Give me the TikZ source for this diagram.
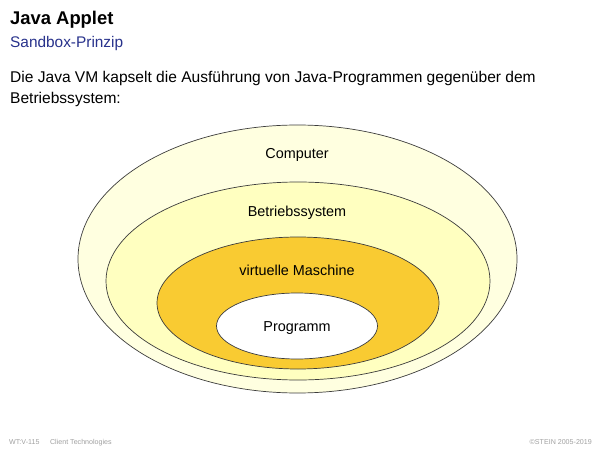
\documentclass[tikz,border=0pt]{standalone}
\usepackage{fontspec}
\setmainfont{Liberation Sans}
\definecolor{subblue}{RGB}{40,50,140}
\definecolor{compfill}{RGB}{255,255,224}
\definecolor{osfill}{RGB}{255,255,192}
\definecolor{vmfill}{RGB}{249,203,50}
\definecolor{edge}{RGB}{60,60,60}
\definecolor{foot}{RGB}{160,160,160}
\begin{document}
\begin{tikzpicture}[x=1bp,y=-1bp,
  layer/.style={draw=edge,line width=0.7bp},
  lbl/.style={anchor=base,inner sep=0pt,font=\fontsize{14.4bp}{16bp}\selectfont},
  txt/.style={anchor=base west,inner sep=0pt},
  footer/.style={inner sep=0pt,text=foot,font=\fontsize{7.1bp}{8bp}\selectfont}]
\useasboundingbox (0,0) rectangle (600,450);
\fill[white] (0,0) rectangle (600,450);
% titles
\node[txt,font=\bfseries\fontsize{18.4bp}{22bp}\selectfont] (title) at (10,25) {Java Applet};
\node[txt,text=subblue,font=\fontsize{15.4bp}{18bp}\selectfont] (sub) at (10,47.5) {Sandbox-Prinzip};
\node[txt,font=\fontsize{15.55bp}{18bp}\selectfont] (body1) at (10,83) {Die Java VM kapselt die Ausführung von Java-Programmen gegenüber dem};
\node[txt,font=\fontsize{15.55bp}{18bp}\selectfont] (body2) at (10,104) {Betriebssystem:};
% ellipses
\draw[layer,fill=compfill] (297.5,259) ellipse [x radius=219.5,y radius=134];
\draw[layer,fill=osfill] (298,281) ellipse [x radius=192,y radius=99];
\draw[layer,fill=vmfill] (298,303) ellipse [x radius=141,y radius=66];
\draw[layer,fill=white] (297,326) ellipse [x radius=80.5,y radius=33];
\node[lbl] (computer) at (297,158.5) {Computer};
\node[lbl] (os) at (297,216.5) {Betriebssystem};
\node[lbl] (vm) at (297,276) {virtuelle Maschine};
\node[lbl] (prog) at (297,331.5) {Programm};
% footer
\node[footer,anchor=base west] (footl) at (9,444) {WT:V-115\hspace{1.5em}Client Technologies};
\node[footer,anchor=base east] (footr) at (592,444) {©STEIN 2005-2019};
\end{tikzpicture}
\end{document}
